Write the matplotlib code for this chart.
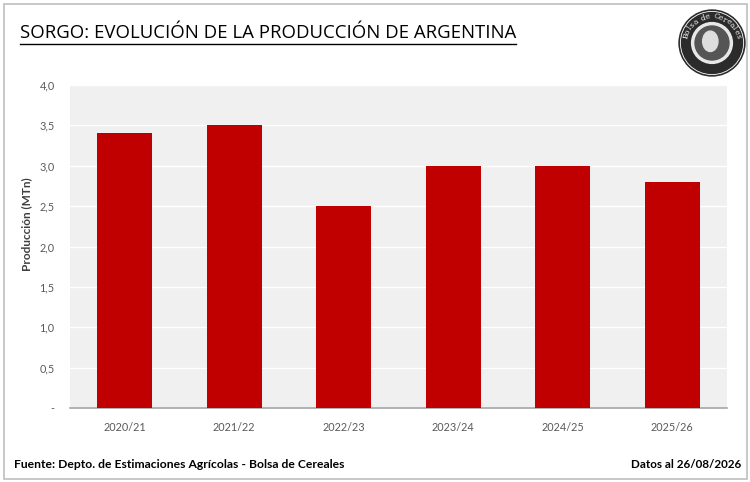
import matplotlib
matplotlib.use("Agg")
import matplotlib.pyplot as plt
import matplotlib.patches as mpatches
from matplotlib.lines import Line2D
import numpy as np

campaigns = ["2020/21", "2021/22", "2022/23", "2023/24", "2024/25", "2025/26"]
production = [3.4, 3.5, 2.5, 3.0, 3.0, 2.8]
ytick_values = [0.0, 0.5, 1.0, 1.5, 2.0, 2.5, 3.0, 3.5, 4.0]
ytick_labels = ["-", "0,5", "1,0", "1,5", "2,0", "2,5", "3,0", "3,5", "4,0"]
title = "SORGO: EVOLUCIÓN DE LA PRODUCCIÓN DE ARGENTINA"
ylabel = "Producción (MTn)"
source = "Fuente: Depto. de Estimaciones Agrícolas - Bolsa de Cereales"
date_note = "Datos al 26/08/2026"

FONT = "Lato"
W, H = 750, 482
fig = plt.figure(figsize=(W / 100, H / 100), dpi=100)
fig.patch.set_facecolor("white")

# outer border
fig.patches.append(mpatches.Rectangle((4 / W, 3 / H), 743 / W, 475 / H,
                                      transform=fig.transFigure, fill=False,
                                      edgecolor="#BFBFBF", linewidth=1.2))

ax = fig.add_axes([70 / W, 1 - 408 / H, 657 / W, 323 / H])
ax.set_facecolor("#F0F0F0")
x = np.arange(len(campaigns))
ax.bar(x, production, width=0.5, color="#C00000", zorder=3)
ax.set_xlim(-0.5, len(campaigns) - 0.5)
ax.set_ylim(0, 4.0)
ax.set_yticks(ytick_values)
ax.set_yticklabels(ytick_labels)
ax.set_xticks(x)
ax.set_xticklabels(campaigns)
ax.yaxis.grid(True, color="white", linewidth=1.0, zorder=1)
ax.set_axisbelow(True)
for s in ["top", "right", "left"]:
    ax.spines[s].set_visible(False)
ax.spines["bottom"].set_color("#A6A6A6")
ax.spines["bottom"].set_linewidth(1.2)
ax.tick_params(axis="both", length=0, labelsize=7.8, labelcolor="#595959",
               labelfontfamily=FONT)
ax.tick_params(axis="x", pad=10)
ax.tick_params(axis="y", pad=11)

fig.text(27 / W, 1 - 224 / H, ylabel, rotation=90, ha="center", va="center",
         fontsize=8.5, fontweight="bold", color="#404040", family=FONT)

t = fig.text(20 / W, 1 - 33 / H, title, ha="left", va="center",
             fontsize=13.4, color="black", family="Open Sans")
fig.canvas.draw()
bb = t.get_window_extent(renderer=fig.canvas.get_renderer())
uy = 1 - 44 / H
fig.lines.append(Line2D([bb.x0 / W, bb.x1 / W], [uy, uy], transform=fig.transFigure,
                        color="black", linewidth=1.0))

fig.text(14 / W, 1 - 465 / H, source, ha="left", va="center",
         fontsize=8.7, fontweight="bold", color="black", family=FONT)
fig.text(741 / W, 1 - 465 / H, date_note, ha="right", va="center",
         fontsize=8.4, fontweight="bold", color="black", family=FONT)

# logo (simple emblem)
lax = fig.add_axes([(712 - 34) / W, 1 - (43 + 34) / H, 68 / W, 68 / H])
lax.set_xlim(-1, 1)
lax.set_ylim(-1, 1)
lax.set_aspect("equal")
lax.axis("off")
lax.add_patch(mpatches.Circle((0, 0), 0.97, color="#2B2B2B"))
lax.add_patch(mpatches.Circle((0, 0), 0.93, fill=False, edgecolor="white", linewidth=0.6))
lax.add_patch(mpatches.Circle((0, 0), 0.6, color="#E8E8E8"))
lax.add_patch(mpatches.Circle((0.0, 0.0), 0.5, color="#555555"))
lax.add_patch(mpatches.Ellipse((-0.05, 0.05), 0.45, 0.6, color="#DDDDDD"))
label = "Bolsa de Cereales"
n = len(label)
angles = np.linspace(165, 15, n)
for ch, a in zip(label, angles):
    r = 0.78
    lax.text(r * np.cos(np.radians(a)), r * np.sin(np.radians(a)), ch,
             rotation=a - 90, ha="center", va="center", fontsize=5.5,
             color="white", family="DejaVu Serif")

fig.savefig("out.png", dpi=100, facecolor="white")
